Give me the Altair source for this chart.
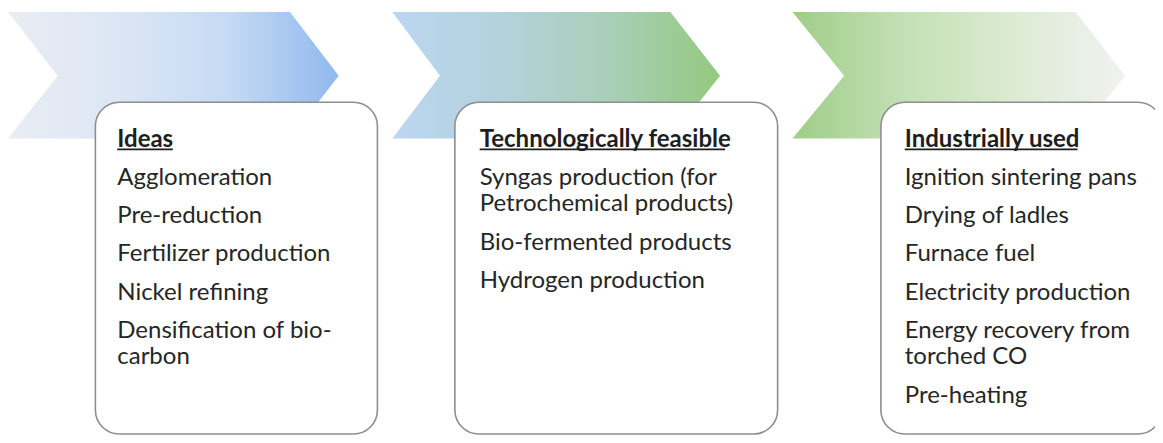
import altair as alt
import pandas as pd

# ---- content -------------------------------------------------------------
stages = ["Ideas", "Technologically feasible", "Industrially used"]
items_ideas = [["Agglomeration"], ["Pre-reduction"], ["Fertilizer production"],
               ["Nickel refining"], ["Densification of bio-", "carbon"]]
items_feasible = [["Syngas production (for", "Petrochemical products)"],
                  ["Bio-fermented products"], ["Hydrogen production"]]
items_used = [["Ignition sintering pans"], ["Drying of ladles"], ["Furnace fuel"],
              ["Electricity production"], ["Energy recovery from", "torched CO"],
              ["Pre-heating"]]
stage_items = [items_ideas, items_feasible, items_used]

# ---- layout (pixel coordinates of the 1163x443 picture) -------------------
chev_y = [12, 77, 141]
chev_left = [[8, 58, 8], [395, 443, 395], [798, 850, 798]]
chev_right = [[292, 341, 292], [675, 725, 675], [1083, 1133, 1083]]
chev_stops = [
    ["#e9edf3", "#dce6f4", "#c6daf4", "#90b9ee"],
    ["#bcd6f0", "#b2d2dc", "#a8cfb8", "#94c97e"],
    ["#9fcd88", "#c3e0b4", "#dcebd3", "#f1f2f0"],
]
box_x = [96, 458, 887]
box_x2 = [380, 783, 1170]
box_top, box_bottom = 104, 442
text_x = [118, 483, 911]
underline_x2 = [174, 730, 1085]
head_y = 142
underline_y = 152
item_gap = 39
wrap_gap = 27
font = "Lato"
fsize = 24

W, H = 1147, 427
xs = alt.Scale(domain=[8, 1163], range=[0, W], nice=False, zero=False)
ys = alt.Scale(domain=[443, 8], nice=False, zero=False)
X = lambda f: alt.X(f, type="quantitative", scale=xs, axis=None)
Y = lambda f: alt.Y(f, type="quantitative", scale=ys, axis=None)

layers = []

# plain white page behind everything
page = pd.DataFrame({"x": [0], "x2": [1175], "y": [0], "y2": [455]})
layers.append(
    alt.Chart(page).mark_rect(fill="white", strokeWidth=0)
    .encode(x=X("x"), x2="x2", y=Y("y"), y2="y2")
)

# chevrons
for i in range(3):
    df = pd.DataFrame({"y": chev_y, "xl": chev_left[i], "xr": chev_right[i]})
    n = len(chev_stops[i])
    grad = alt.Gradient(
        gradient="linear", x1=0, x2=1, y1=0, y2=0,
        stops=[alt.GradientStop(color=c, offset=k / (n - 1)) for k, c in enumerate(chev_stops[i])],
    )
    layers.append(
        alt.Chart(df).mark_area(orient="horizontal", color=grad, opacity=1)
        .encode(y=Y("y"), x=X("xl"), x2="xr")
    )

# boxes
boxes = pd.DataFrame({"x": box_x, "x2": box_x2, "y": [box_top] * 3, "y2": [box_bottom] * 3})
layers.append(
    alt.Chart(boxes).mark_rect(cornerRadius=24, fill="white", stroke="#8e8e8e", strokeWidth=1.6)
    .encode(x=X("x"), x2="x2", y=Y("y"), y2="y2")
)

# text rows
rows = []
for i, (head, items) in enumerate(zip(stages, stage_items)):
    rows.append({"x": text_x[i], "y": head_y, "t": head, "w": "bold"})
    y = head_y
    for lines in items:
        y += item_gap
        for j, ln in enumerate(lines):
            rows.append({"x": text_x[i], "y": y + j * wrap_gap, "t": ln, "w": "normal"})
        y += (len(lines) - 1) * wrap_gap
tdf = pd.DataFrame(rows)

layers.append(
    alt.Chart(tdf[tdf.w == "bold"]).mark_text(
        align="left", baseline="middle", font=font, fontSize=fsize, fontWeight="bold", color="#1e1e1e"
    ).encode(x=X("x"), y=Y("y"), text="t:N")
)
layers.append(
    alt.Chart(tdf[tdf.w == "normal"]).mark_text(
        align="left", baseline="middle", font=font, fontSize=fsize, color="#262626"
    ).encode(x=X("x"), y=Y("y"), text="t:N")
)

# underlines of the headings
ul = pd.DataFrame({"x": text_x, "x2": underline_x2, "y": [underline_y] * 3})
layers.append(
    alt.Chart(ul).mark_rule(color="#1e1e1e", strokeWidth=1.8)
    .encode(x=X("x"), x2="x2", y=Y("y"))
)

chart = (
    alt.layer(*layers)
    .properties(width=W, height=H, padding=0, autosize=alt.AutoSizeParams(type="none"))
    .configure_view(stroke=None, strokeWidth=0)
    .configure(background="white")
)
chart.save("out.html", embed_options={"renderer": "svg", "actions": False})
